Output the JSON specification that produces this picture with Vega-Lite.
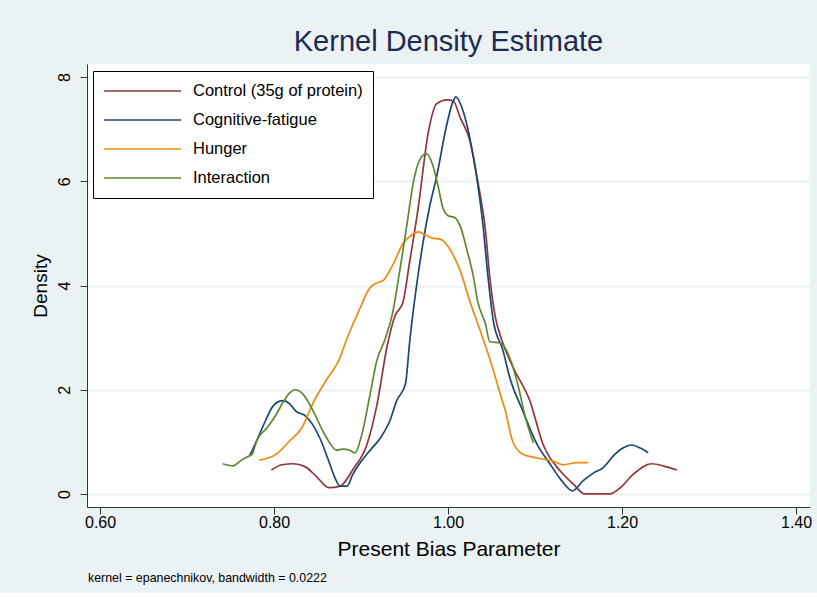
{
  "$schema": "https://vega.github.io/schema/vega-lite/v6.json",
  "background": "#EAF2F3",
  "padding": {"left": 30, "top": 28, "right": 7, "bottom": 8},
  "config": {
    "view": {"fill": "#ffffff", "stroke": null},
    "font": "Liberation Sans",
    "axis": {"domainColor": "#333333", "tickColor": "#333333", "labelColor": "#000000", "titleColor": "#000000", "labelFont": "Liberation Sans", "titleFont": "Liberation Sans", "titleFontWeight": "normal"}
  },
  "title": {"text": "kernel = epanechnikov, bandwidth = 0.0222", "orient": "bottom", "anchor": "start", "fontSize": 12.4, "fontWeight": "normal", "font": "Liberation Sans", "color": "#000000", "offset": 13, "dx": 57},
  "vconcat": [
    {
      "width": 723,
      "height": 443,
      "title": {"text": "Kernel Density Estimate", "fontSize": 29, "font": "Liberation Sans", "fontWeight": "normal", "color": "#1C2B52", "offset": 7, "anchor": "middle"},
      "data": {"values": [
        {"group": "Control (35g of protein)", "x": 0.797, "y": 0.46},
        {"group": "Control (35g of protein)", "x": 0.809, "y": 0.56},
        {"group": "Control (35g of protein)", "x": 0.822, "y": 0.58},
        {"group": "Control (35g of protein)", "x": 0.836, "y": 0.52},
        {"group": "Control (35g of protein)", "x": 0.849, "y": 0.33},
        {"group": "Control (35g of protein)", "x": 0.863, "y": 0.12},
        {"group": "Control (35g of protein)", "x": 0.876, "y": 0.15},
        {"group": "Control (35g of protein)", "x": 0.891, "y": 0.48},
        {"group": "Control (35g of protein)", "x": 0.907, "y": 0.96},
        {"group": "Control (35g of protein)", "x": 0.918, "y": 1.69},
        {"group": "Control (35g of protein)", "x": 0.930, "y": 2.84},
        {"group": "Control (35g of protein)", "x": 0.939, "y": 3.42},
        {"group": "Control (35g of protein)", "x": 0.948, "y": 3.67},
        {"group": "Control (35g of protein)", "x": 0.956, "y": 4.47},
        {"group": "Control (35g of protein)", "x": 0.966, "y": 5.53},
        {"group": "Control (35g of protein)", "x": 0.977, "y": 6.91},
        {"group": "Control (35g of protein)", "x": 0.987, "y": 7.49},
        {"group": "Control (35g of protein)", "x": 0.999, "y": 7.56},
        {"group": "Control (35g of protein)", "x": 1.006, "y": 7.54},
        {"group": "Control (35g of protein)", "x": 1.014, "y": 7.22},
        {"group": "Control (35g of protein)", "x": 1.025, "y": 6.78},
        {"group": "Control (35g of protein)", "x": 1.034, "y": 6.01},
        {"group": "Control (35g of protein)", "x": 1.043, "y": 5.05},
        {"group": "Control (35g of protein)", "x": 1.048, "y": 4.15},
        {"group": "Control (35g of protein)", "x": 1.054, "y": 3.42},
        {"group": "Control (35g of protein)", "x": 1.062, "y": 2.94},
        {"group": "Control (35g of protein)", "x": 1.075, "y": 2.42},
        {"group": "Control (35g of protein)", "x": 1.094, "y": 1.79},
        {"group": "Control (35g of protein)", "x": 1.109, "y": 0.96},
        {"group": "Control (35g of protein)", "x": 1.129, "y": 0.44},
        {"group": "Control (35g of protein)", "x": 1.144, "y": 0.19},
        {"group": "Control (35g of protein)", "x": 1.157, "y": 0.0},
        {"group": "Control (35g of protein)", "x": 1.186, "y": 0.0},
        {"group": "Control (35g of protein)", "x": 1.198, "y": 0.12},
        {"group": "Control (35g of protein)", "x": 1.213, "y": 0.38},
        {"group": "Control (35g of protein)", "x": 1.234, "y": 0.58},
        {"group": "Control (35g of protein)", "x": 1.247, "y": 0.54},
        {"group": "Control (35g of protein)", "x": 1.263, "y": 0.46},
        {"group": "Cognitive-fatigue", "x": 0.772, "y": 0.73},
        {"group": "Cognitive-fatigue", "x": 0.780, "y": 1.02},
        {"group": "Cognitive-fatigue", "x": 0.790, "y": 1.40},
        {"group": "Cognitive-fatigue", "x": 0.799, "y": 1.69},
        {"group": "Cognitive-fatigue", "x": 0.810, "y": 1.79},
        {"group": "Cognitive-fatigue", "x": 0.818, "y": 1.73},
        {"group": "Cognitive-fatigue", "x": 0.825, "y": 1.59},
        {"group": "Cognitive-fatigue", "x": 0.836, "y": 1.50},
        {"group": "Cognitive-fatigue", "x": 0.844, "y": 1.34},
        {"group": "Cognitive-fatigue", "x": 0.853, "y": 1.06},
        {"group": "Cognitive-fatigue", "x": 0.862, "y": 0.67},
        {"group": "Cognitive-fatigue", "x": 0.870, "y": 0.31},
        {"group": "Cognitive-fatigue", "x": 0.876, "y": 0.15},
        {"group": "Cognitive-fatigue", "x": 0.884, "y": 0.15},
        {"group": "Cognitive-fatigue", "x": 0.890, "y": 0.36},
        {"group": "Cognitive-fatigue", "x": 0.899, "y": 0.60},
        {"group": "Cognitive-fatigue", "x": 0.910, "y": 0.83},
        {"group": "Cognitive-fatigue", "x": 0.922, "y": 1.07},
        {"group": "Cognitive-fatigue", "x": 0.933, "y": 1.40},
        {"group": "Cognitive-fatigue", "x": 0.941, "y": 1.79},
        {"group": "Cognitive-fatigue", "x": 0.951, "y": 2.11},
        {"group": "Cognitive-fatigue", "x": 0.956, "y": 2.94},
        {"group": "Cognitive-fatigue", "x": 0.963, "y": 3.90},
        {"group": "Cognitive-fatigue", "x": 0.971, "y": 4.80},
        {"group": "Cognitive-fatigue", "x": 0.979, "y": 5.53},
        {"group": "Cognitive-fatigue", "x": 0.987, "y": 6.10},
        {"group": "Cognitive-fatigue", "x": 0.997, "y": 6.97},
        {"group": "Cognitive-fatigue", "x": 1.005, "y": 7.50},
        {"group": "Cognitive-fatigue", "x": 1.009, "y": 7.62},
        {"group": "Cognitive-fatigue", "x": 1.016, "y": 7.41},
        {"group": "Cognitive-fatigue", "x": 1.025, "y": 6.83},
        {"group": "Cognitive-fatigue", "x": 1.033, "y": 6.07},
        {"group": "Cognitive-fatigue", "x": 1.040, "y": 5.18},
        {"group": "Cognitive-fatigue", "x": 1.046, "y": 4.15},
        {"group": "Cognitive-fatigue", "x": 1.052, "y": 3.32},
        {"group": "Cognitive-fatigue", "x": 1.063, "y": 2.76},
        {"group": "Cognitive-fatigue", "x": 1.071, "y": 2.23},
        {"group": "Cognitive-fatigue", "x": 1.086, "y": 1.59},
        {"group": "Cognitive-fatigue", "x": 1.102, "y": 0.96},
        {"group": "Cognitive-fatigue", "x": 1.117, "y": 0.58},
        {"group": "Cognitive-fatigue", "x": 1.129, "y": 0.29},
        {"group": "Cognitive-fatigue", "x": 1.143, "y": 0.06},
        {"group": "Cognitive-fatigue", "x": 1.155, "y": 0.25},
        {"group": "Cognitive-fatigue", "x": 1.167, "y": 0.40},
        {"group": "Cognitive-fatigue", "x": 1.178, "y": 0.50},
        {"group": "Cognitive-fatigue", "x": 1.190, "y": 0.73},
        {"group": "Cognitive-fatigue", "x": 1.201, "y": 0.88},
        {"group": "Cognitive-fatigue", "x": 1.211, "y": 0.94},
        {"group": "Cognitive-fatigue", "x": 1.221, "y": 0.88},
        {"group": "Cognitive-fatigue", "x": 1.230, "y": 0.79},
        {"group": "Hunger", "x": 0.783, "y": 0.65},
        {"group": "Hunger", "x": 0.803, "y": 0.77},
        {"group": "Hunger", "x": 0.818, "y": 1.02},
        {"group": "Hunger", "x": 0.832, "y": 1.27},
        {"group": "Hunger", "x": 0.845, "y": 1.75},
        {"group": "Hunger", "x": 0.861, "y": 2.21},
        {"group": "Hunger", "x": 0.874, "y": 2.55},
        {"group": "Hunger", "x": 0.885, "y": 3.03},
        {"group": "Hunger", "x": 0.899, "y": 3.57},
        {"group": "Hunger", "x": 0.910, "y": 3.95},
        {"group": "Hunger", "x": 0.918, "y": 4.05},
        {"group": "Hunger", "x": 0.925, "y": 4.09},
        {"group": "Hunger", "x": 0.937, "y": 4.41},
        {"group": "Hunger", "x": 0.948, "y": 4.80},
        {"group": "Hunger", "x": 0.960, "y": 4.99},
        {"group": "Hunger", "x": 0.966, "y": 5.03},
        {"group": "Hunger", "x": 0.976, "y": 4.95},
        {"group": "Hunger", "x": 0.982, "y": 4.91},
        {"group": "Hunger", "x": 0.991, "y": 4.89},
        {"group": "Hunger", "x": 1.002, "y": 4.70},
        {"group": "Hunger", "x": 1.014, "y": 4.28},
        {"group": "Hunger", "x": 1.025, "y": 3.70},
        {"group": "Hunger", "x": 1.037, "y": 3.13},
        {"group": "Hunger", "x": 1.048, "y": 2.59},
        {"group": "Hunger", "x": 1.060, "y": 1.92},
        {"group": "Hunger", "x": 1.066, "y": 1.59},
        {"group": "Hunger", "x": 1.074, "y": 1.02},
        {"group": "Hunger", "x": 1.085, "y": 0.77},
        {"group": "Hunger", "x": 1.102, "y": 0.69},
        {"group": "Hunger", "x": 1.121, "y": 0.63},
        {"group": "Hunger", "x": 1.132, "y": 0.56},
        {"group": "Hunger", "x": 1.148, "y": 0.60},
        {"group": "Hunger", "x": 1.161, "y": 0.60},
        {"group": "Interaction", "x": 0.741, "y": 0.58},
        {"group": "Interaction", "x": 0.753, "y": 0.54},
        {"group": "Interaction", "x": 0.761, "y": 0.63},
        {"group": "Interaction", "x": 0.769, "y": 0.71},
        {"group": "Interaction", "x": 0.775, "y": 0.77},
        {"group": "Interaction", "x": 0.780, "y": 1.02},
        {"group": "Interaction", "x": 0.792, "y": 1.27},
        {"group": "Interaction", "x": 0.803, "y": 1.54},
        {"group": "Interaction", "x": 0.810, "y": 1.75},
        {"group": "Interaction", "x": 0.818, "y": 1.94},
        {"group": "Interaction", "x": 0.824, "y": 2.00},
        {"group": "Interaction", "x": 0.833, "y": 1.92},
        {"group": "Interaction", "x": 0.845, "y": 1.59},
        {"group": "Interaction", "x": 0.856, "y": 1.21},
        {"group": "Interaction", "x": 0.864, "y": 0.98},
        {"group": "Interaction", "x": 0.872, "y": 0.84},
        {"group": "Interaction", "x": 0.879, "y": 0.86},
        {"group": "Interaction", "x": 0.887, "y": 0.84},
        {"group": "Interaction", "x": 0.893, "y": 0.79},
        {"group": "Interaction", "x": 0.901, "y": 1.15},
        {"group": "Interaction", "x": 0.910, "y": 1.88},
        {"group": "Interaction", "x": 0.918, "y": 2.55},
        {"group": "Interaction", "x": 0.928, "y": 2.99},
        {"group": "Interaction", "x": 0.936, "y": 3.45},
        {"group": "Interaction", "x": 0.945, "y": 4.34},
        {"group": "Interaction", "x": 0.953, "y": 5.20},
        {"group": "Interaction", "x": 0.960, "y": 5.97},
        {"group": "Interaction", "x": 0.968, "y": 6.43},
        {"group": "Interaction", "x": 0.975, "y": 6.53},
        {"group": "Interaction", "x": 0.982, "y": 6.33},
        {"group": "Interaction", "x": 0.989, "y": 5.87},
        {"group": "Interaction", "x": 0.994, "y": 5.49},
        {"group": "Interaction", "x": 1.000, "y": 5.34},
        {"group": "Interaction", "x": 1.008, "y": 5.30},
        {"group": "Interaction", "x": 1.014, "y": 5.14},
        {"group": "Interaction", "x": 1.022, "y": 4.66},
        {"group": "Interaction", "x": 1.029, "y": 4.18},
        {"group": "Interaction", "x": 1.034, "y": 3.70},
        {"group": "Interaction", "x": 1.043, "y": 3.26},
        {"group": "Interaction", "x": 1.048, "y": 2.92},
        {"group": "Interaction", "x": 1.060, "y": 2.90},
        {"group": "Interaction", "x": 1.071, "y": 2.61},
        {"group": "Interaction", "x": 1.080, "y": 2.11},
        {"group": "Interaction", "x": 1.089, "y": 1.46},
        {"group": "Interaction", "x": 1.098, "y": 0.98}
      ]},
      "mark": {"type": "line", "interpolate": "monotone", "strokeWidth": 1.7},
      "encoding": {
        "x": {"field": "x", "type": "quantitative",
          "scale": {"domain": [0.585, 1.416], "nice": false, "zero": false},
          "axis": {"values": [0.6, 0.8, 1.0, 1.2, 1.4], "format": ".2f", "title": "Present Bias Parameter", "grid": false, "tickSize": 7, "labelFontSize": 16, "titleFontSize": 21, "labelPadding": 0, "titlePadding": 8}},
        "y": {"field": "y", "type": "quantitative",
          "scale": {"domain": [-0.25, 8.25], "nice": false, "zero": false},
          "axis": {"values": [0, 2, 4, 6, 8], "format": "d", "title": "Density", "grid": true, "gridColor": "#EAF2F3", "gridWidth": 2, "tickSize": 7, "labelFontSize": 16, "labelAngle": 270, "labelPadding": 8, "titleFontSize": 19, "titlePadding": 6}},
        "color": {"field": "group", "type": "nominal",
          "scale": {"domain": ["Control (35g of protein)", "Cognitive-fatigue", "Hunger", "Interaction"], "range": ["#90353B", "#1A476F", "#EE8A12", "#5F8736"]},
          "legend": {"orient": "none", "legendX": 6, "legendY": 7, "title": null, "symbolType": "stroke", "symbolSize": 5929, "symbolStrokeWidth": 1.7, "clipHeight": 20, "rowPadding": 9, "padding": 10, "labelFontSize": 16.5, "labelFont": "Liberation Sans", "labelColor": "#000000", "labelOffset": 11, "labelLimit": 400, "strokeColor": "#000000", "fillColor": "#ffffff"}}
      }
    }
  ]
}
